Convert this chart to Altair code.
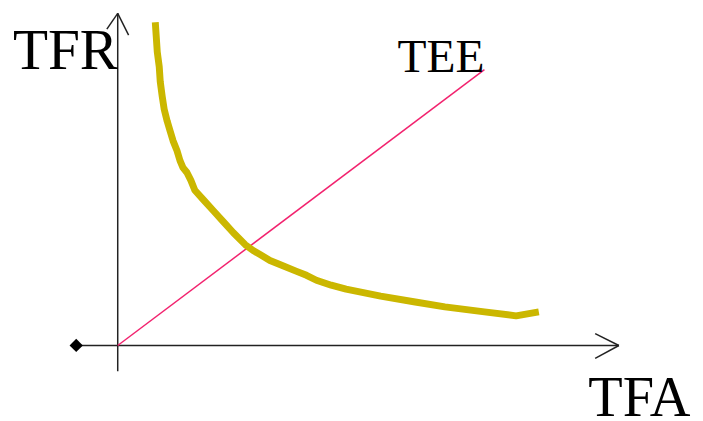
import altair as alt
import pandas as pd

# Curve (TFR vs TFA); units = pixels from origin
curve_x = [38, 39, 40, 42, 43, 45, 47, 50, 53, 56, 60, 63, 66, 70, 74, 78, 87, 97, 107, 117, 129, 137, 144, 154,
           164, 181, 191, 201, 216, 231, 266, 301, 331, 371, 403, 426]
curve_y = [327, 312, 297, 282, 267, 252, 239, 227, 217, 207, 197, 187, 180, 175, 167, 157, 147, 136, 125, 114, 102, 96, 92, 86,
           82, 75, 71, 66, 61, 57, 50, 44, 39, 34, 30, 34]

# TEE straight line
tee_x = [0, 371]
tee_y = [0, 279]

# axes with arrows (segments)
seg_x = [-42, 0, 0, -11, 0, 483, 483]
seg_y = [0, -26, 336, 320, 336, 12, -13]
seg_x2 = [507, 0, 0, 0, 11, 507, 507]
seg_y2 = [0, 336, 336, 336, 314, 0, 0]

labels = ["TFR", "TEE", "TFA"]
label_x = [-106, 283, 476]
label_y = [280, 277, -71]
label_size = [58, 48, 57]

marker_x = [-42]
marker_y = [0]

H = 413
X = alt.Scale(domain=[-111, 584])
Y = alt.Scale(domain=[339 - H, 339])

curve = alt.Chart(pd.DataFrame({"x": curve_x, "y": curve_y, "o": range(len(curve_x))})).mark_line(
    color="#cbb700", strokeWidth=7, strokeCap="butt", strokeJoin="round"
).encode(x=alt.X("x:Q", scale=X, axis=None), y=alt.Y("y:Q", scale=Y, axis=None), order="o:Q")

tee = alt.Chart(pd.DataFrame({"x": tee_x, "y": tee_y})).mark_line(
    color="#f2226e", strokeWidth=1.5
).encode(x=alt.X("x:Q", scale=X, axis=None), y=alt.Y("y:Q", scale=Y, axis=None))

segs = alt.Chart(pd.DataFrame({"x": seg_x, "y": seg_y, "x2": seg_x2, "y2": seg_y2})).mark_rule(
    color="#222222", strokeWidth=1.5
).encode(x=alt.X("x:Q", scale=X, axis=None), y=alt.Y("y:Q", scale=Y, axis=None), x2="x2:Q", y2="y2:Q")

marker = alt.Chart(pd.DataFrame({"x": marker_x, "y": marker_y})).mark_point(
    shape="diamond", filled=True, color="black", size=180, opacity=1
).encode(x=alt.X("x:Q", scale=X, axis=None), y=alt.Y("y:Q", scale=Y, axis=None))

text = alt.Chart(pd.DataFrame({"t": labels, "x": label_x, "y": label_y, "s": label_size})).mark_text(
    align="left", baseline="alphabetic", font="Liberation Serif", color="black"
).encode(
    x=alt.X("x:Q", scale=X, axis=None), y=alt.Y("y:Q", scale=Y, axis=None), text="t:N",
    size=alt.Size("s:Q", scale=None, legend=None)
)

chart = alt.layer(segs, tee, curve, marker, text).properties(
    width=695, height=H, autosize=alt.AutoSizeParams(type="none"), padding=0
).configure_view(stroke=None)

chart.save("out.html", embed_options={"renderer": "svg", "actions": False})
